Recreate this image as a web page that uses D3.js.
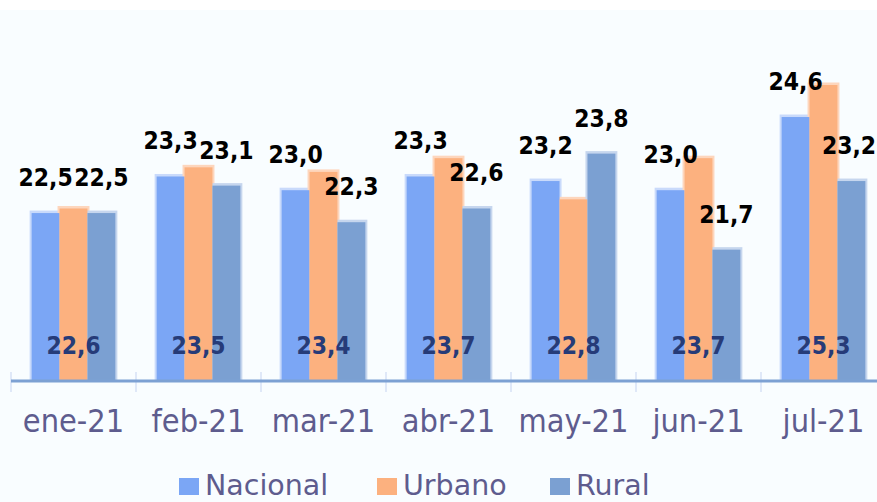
<!DOCTYPE html>
<html><head><meta charset="utf-8">
<script src="https://cdn.jsdelivr.net/npm/d3@7"></script>
<style>
html,body{margin:0;padding:0;background:#ffffff;overflow:hidden;}
svg{display:block;}
</style></head>
<body>
<svg id="chart" width="877" height="502"></svg>
<script>
const categories = ["ene-21","feb-21","mar-21","abr-21","may-21","jun-21","jul-21"];
const seriesNames = ["Nacional","Urbano","Rural"];
const nacional = [22.5,23.3,23.0,23.3,23.2,23.0,24.6];
const urbano   = [22.6,23.5,23.4,23.7,22.8,23.7,25.3];
const rural    = [22.5,23.1,22.3,22.6,23.8,21.7,23.2];

const colors = {Nacional:"#7ba6f5", Urbano:"#fcb17f", Rural:"#7ba0d2"};
const halo   = {Nacional:"#c9dafb", Urbano:"#fdd6bd", Rural:"#c6d6ee"};
const textCol = "#5e5c8e";

const rows = categories.map((c,i)=>({cat:c, Nacional:nacional[i], Urbano:urbano[i], Rural:rural[i]}));

const W = 877, H = 502;
const svg = d3.select("#chart");
svg.append("rect").attr("x",0).attr("y",0).attr("width",W).attr("height",H).attr("fill","#ffffff");
svg.append("rect").attr("x",0).attr("y",10).attr("width",W).attr("height",H-10).attr("fill","#f9fdff");

const x0 = d3.scaleBand().domain(categories).range([11, 886]).paddingInner(0.33).paddingOuter(0.165);
const x1 = d3.scaleBand().domain(seriesNames).range([0, x0.bandwidth()]).padding(0);
const y = d3.scaleLinear().domain([18.85, 25.3]).range([380, 85]);
const baseY = y(18.85);
const fmt = v => d3.format(".1f")(v).replace(".", ",");

const groups = svg.append("g").selectAll("g").data(rows).join("g")
  .attr("transform", d => `translate(${x0(d.cat)},0)`);

// halos (light edges)
groups.selectAll("rect.halo").data(d => seriesNames.map(s => ({s, v:d[s]}))).join("rect")
  .attr("class","halo")
  .attr("x", d => x1(d.s) - 2)
  .attr("y", d => y(d.v) - 2.5)
  .attr("width", x1.bandwidth() + 4)
  .attr("height", d => baseY - y(d.v) + 2.5)
  .attr("fill", d => halo[d.s]);

// bars
groups.selectAll("rect.bar").data(d => seriesNames.map(s => ({s, v:d[s]}))).join("rect")
  .attr("class","bar")
  .attr("x", d => x1(d.s))
  .attr("y", d => y(d.v))
  .attr("width", x1.bandwidth())
  .attr("height", d => baseY - y(d.v))
  .attr("fill", d => colors[d.s]);

// boundary ticks
const step = x0.step();
const start = x0.range()[0];
svg.append("g").selectAll("line").data(d3.range(categories.length + 1)).join("line")
  .attr("x1", i => start + i*step).attr("x2", i => start + i*step)
  .attr("y1", 372).attr("y2", 392)
  .attr("stroke", "#dfe8f8").attr("stroke-width", 2);

// axis labels via d3 axis
const axis = svg.append("g").attr("transform", `translate(0,${baseY})`)
  .call(d3.axisBottom(x0).tickSize(0).tickPadding(0));
axis.select(".domain").remove();
svg.append("line").attr("x1", start).attr("x2", W).attr("y1", baseY+1).attr("y2", baseY+1)
  .attr("stroke", "#7da1d3").attr("stroke-width", 3.2);
axis.selectAll(".tick text")
  .attr("y", 0).attr("dy", 0)
  .attr("transform", "translate(0,52) scale(1,1.1)")
  .attr("font-family", "DejaVu Sans").attr("font-size", 29)
  .attr("fill", textCol);

// top labels (Nacional, Rural)
const lab = svg.append("g");
const halfLabel = 28;
["Nacional","Rural"].forEach(s => {
  lab.selectAll(null).data(rows).join("text")
    .attr("transform", d => {
      const cx = Math.min(x0(d.cat) + x1(s) + x1.bandwidth()/2, W - halfLabel);
      return `translate(${cx},${y(d[s]) - 27}) scale(1,1.15)`;
    })
    .attr("text-anchor","middle")
    .attr("font-family","DejaVu Sans").attr("font-weight","bold").attr("font-size",22)
    .attr("fill","#000000")
    .text(d => fmt(d[s]));
});
// Urbano labels inside at bottom
lab.selectAll(null).data(rows).join("text")
  .attr("transform", d => `translate(${x0(d.cat) + x1("Urbano") + x1.bandwidth()/2},354) scale(1,1.15)`)
  .attr("text-anchor","middle")
  .attr("font-family","DejaVu Sans").attr("font-weight","bold").attr("font-size",22)
  .attr("fill","#263b78")
  .text(d => fmt(d.Urbano));

// legend
const legX = [179, 377, 550];
const leg = svg.append("g").selectAll("g").data(seriesNames).join("g")
  .attr("transform", (d,i) => `translate(${legX[i]},478)`);
leg.append("rect").attr("width",20).attr("height",17).attr("fill", d => colors[d]);
leg.append("text").attr("x",26).attr("y",17)
  .attr("font-family","DejaVu Sans").attr("font-size",28.5).attr("fill",textCol)
  .text(d => d);
</script>
</body></html>
